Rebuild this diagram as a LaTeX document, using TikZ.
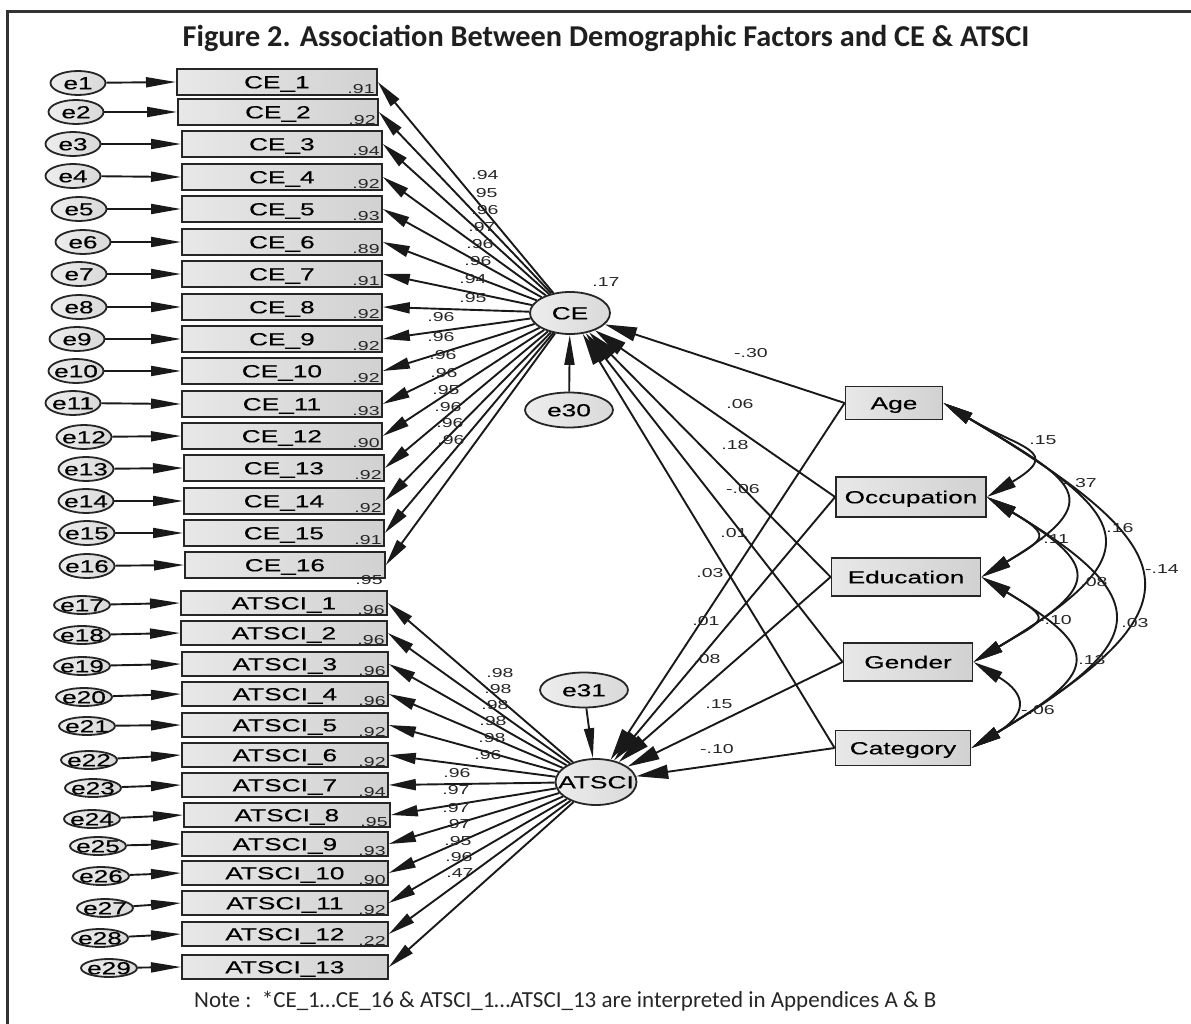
\documentclass[tikz,border=0pt]{standalone}
\usepackage{fontspec}
\setmainfont{Liberation Sans}
\newfontfamily\amos[FakeStretch=1.5,FakeBold=0.3]{Liberation Sans}
\newfontfamily\amoslab[FakeStretch=1.5]{Liberation Sans}
\newfontfamily\cali{Carlito}
\usetikzlibrary{arrows.meta,shapes.geometric}
\newcommand{\ctr}[1]{\makebox[0pt]{\raisebox{-0.36em}[0pt][0pt]{#1}}}
\tikzset{
 lw/.style={line width=1.9pt, draw=black!90},
 obs/.style={draw=black!85, line width=1.8pt, left color=black!9, right color=black!18, inner sep=0pt, font=\amos\fontsize{17.5}{18}\selectfont},
 cebox/.style={obs, minimum width=200pt, minimum height=26pt, anchor=west},
 atbox/.style={obs, minimum width=206pt, minimum height=24pt, anchor=west},
 lat/.style={ellipse, draw=black!85, line width=1.8pt, left color=black!7, right color=black!15, inner sep=0pt, font=\amos\fontsize{17.5}{18}\selectfont},
 errce/.style={lat, minimum width=55pt, minimum height=24pt},
 errat/.style={lat, minimum width=56pt, minimum height=18pt},
 lab/.style={inner sep=0pt, font=\amoslab\fontsize{13}{14}\selectfont, text=black!85},
 earr/.style={lw, -{Triangle[length=30pt,width=10pt]}},
 larr/.style={lw, -{Triangle[length=27pt,width=11pt]}},
 sarr/.style={lw, -{Triangle[length=32pt,width=14pt]}},
 carr/.style={lw, {Triangle[length=30pt,width=12pt]}-{Triangle[length=30pt,width=12pt]}},
 frame/.style={draw=black!80, line width=3pt},
}
\begin{document}
\begin{tikzpicture}[x=1pt,y=-1pt]
\useasboundingbox (0,0) rectangle (1191,1024);
\clip (0,0) rectangle (1191,1024);
\draw[frame] (7,12) rectangle (1210,1040);
\node[anchor=base, inner sep=0pt, font=\cali\bfseries\fontsize{30.3}{32}\selectfont, text=black!88] (title) at (606,46.5) {Figure 2. Association Between Demographic Factors and CE \& ATSCI};
\node[anchor=base west, inner sep=0pt, font=\cali\fontsize{23}{25}\selectfont, text=black!85] (note) at (194,1007) {Note :\ \ *CE\_1…CE\_16 \& ATSCI\_1…ATSCI\_13 are interpreted in Appendices A \& B};

% latent variables
\node[lat, minimum width=80pt, minimum height=42pt] (CE) at (570,313) {\ctr{CE}};
\node[lat, minimum width=81pt, minimum height=46pt] (ATSCI) at (596,782) {\ctr{ATSCI}};
\node[lat, minimum width=88pt, minimum height=35pt] (e30) at (569,410) {\ctr{e30}};
\node[lat, minimum width=88pt, minimum height=35pt] (e31) at (584,690) {\ctr{e31}};
\draw[earr] (e30) -- (CE);
\draw[earr] (e31) -- (ATSCI);
\node[lab] (r2ce) at (606,282) {.17};

% CE indicators
\foreach \i/\x/\y/\ex/\ey/\r/\s in {
 1/176/82/78/83/.91/2, 2/177/112/76/112/.92/1, 3/181/144/73/144/.94/2,
 4/181/177/73/176/.92/2, 5/181/209/79/209/.93/2, 6/181/242/83/242/.89/2,
 7/181/274/79/274/.91/2, 8/181/307/79/307/.92/2, 9/181/339/77/339/.92/2,
 10/181/371/76/371/.92/2, 11/181/404/73/403/.93/2, 12/181/436/84/437/.90/2,
 13/183/468/86/469/.92/2, 14/183/501/86/501/.92/2, 15/183/533/87/533/.91/2,
 16/184/565/87/566/.95/-6}{
 \node[cebox] (CE\i) at (\x,\y) {\ctr{CE\_\i}};
 \node[errce] (e\i) at (\ex,\ey) {\ctr{e\i}};
 \draw[earr] (e\i) -- (CE\i.west);
 \draw[larr] (CE) -- (CE\i.east);
 \node[lab, anchor=base east, xshift=-3pt, yshift=\s pt] (rce\i) at (CE\i.south east) {\r};
}

% ATSCI indicators
\foreach \i/\e/\x/\y/\ex/\ey/\r in {
 1/17/180/603/82/605/.96, 2/18/180/633/82/635/.96, 3/19/181/664/82/666/.96,
 4/20/181/694/84/697/.96, 5/21/181/725/87/726/.92, 6/22/181/755/89/760/.92,
 7/23/181/785/93/788/.94, 8/24/183/815/92/819/.95, 9/25/181/844/98/846/.93,
 10/26/181/873/101/876/.90, 11/27/181/903/105/908/.92, 12/28/181/934/100/938/.22}{
 \node[atbox] (AT\i) at (\x,\y) {\ctr{ATSCI\_\i}};
 \node[errat] (e\e) at (\ex,\ey) {\ctr{e\e}};
 \draw[earr] (e\e) -- (AT\i.west);
 \draw[larr] (ATSCI) -- (AT\i.east);
 \node[lab, anchor=base east, xshift=-3pt, yshift=1pt] (rat\i) at (AT\i.south east) {\r};
}
\node[atbox] (AT13) at (181,967) {\ctr{ATSCI\_13}};
\node[errat] (e29) at (109,968) {\ctr{e29}};
\draw[earr] (e29) -- (AT13.west);
\draw[larr] (ATSCI) -- (AT13.east);

% loading labels
\foreach \x/\y/\v [count=\k] in {485/175/.94, 484/193/.95, 485/210/.96, 482/227/.97,
 480/244/.96, 478/261/.96, 473/279/.94, 473/298/.95, 441/317/.96, 441/337/.96,
 443/355/.96, 444/373/.96, 446/390/.95, 448/407/.96, 450/423/.96, 451/440/.96}{
 \node[lab] (lce\k) at (\x,\y) {\v};
}
\foreach \x/\y/\v [count=\k] in {500/673/.98, 498/689/.98, 495/705/.98, 493/721/.98,
 492/738/.98, 488/755/.96, 457/773/.96, 456/790/.97, 456/808/.97, 457/824/.97,
 458/841/.95, 459/857/.96, 460/873/.47}{
 \node[lab] (lat\k) at (\x,\y) {\v};
}

% demographic factors
\node[obs, minimum width=97pt, minimum height=33pt] (Age) at (894,403) {\ctr{Age}};
\node[obs, minimum width=150pt, minimum height=40pt] (Occ) at (911,497) {\ctr{Occupation}};
\node[obs, minimum width=149pt, minimum height=38pt] (Edu) at (906,577) {\ctr{Education}};
\node[obs, minimum width=129pt, minimum height=38pt] (Gen) at (908,662) {\ctr{Gender}};
\node[obs, minimum width=135pt, minimum height=35pt] (Cat) at (903,748) {\ctr{Category}};

\foreach \b in {Age,Occ,Edu,Gen,Cat}{
 \draw[sarr] (\b.west) -- (CE);
 \draw[sarr] (\b.west) -- (ATSCI);
}
\node[lab] (pceage) at (751,353) {-.30};
\node[lab] (pceocc) at (740,404) {.06};
\node[lab] (pceedu) at (735,445) {.18};
\node[lab] (pcegen) at (743,489) {-.06};
\node[lab] (pcecat) at (734,533) {.01};
\node[lab] (patage) at (710,573) {.03};
\node[lab] (patocc) at (706,621) {.01};
\node[lab] (patedu) at (707,659) {.08};
\node[lab] (patgen) at (719,704) {.15};
\node[lab] (patcat) at (717,749) {-.10};

% covariances
\draw[carr] (Age.east) .. controls +(77,46) and +(77,-46) .. (Occ.east);
\draw[carr] (Age.east) .. controls +(131,79) and +(131,-79) .. (Edu.east);
\draw[carr] (Age.east) .. controls +(187,112) and +(187,-112) .. (Gen.east);
\draw[carr] (Age.east) .. controls +(241,145) and +(241,-145) .. (Cat.east);
\draw[carr] (Occ.east) .. controls +(65,39) and +(65,-39) .. (Edu.east);
\draw[carr] (Occ.east) .. controls +(121,73) and +(121,-73) .. (Gen.east);
\draw[carr] (Occ.east) .. controls +(175,105) and +(175,-105) .. (Cat.east);
\draw[carr] (Edu.east) .. controls +(73,44) and +(73,-44) .. (Gen.east);
\draw[carr] (Edu.east) .. controls +(125,75) and +(125,-75) .. (Cat.east);
\draw[carr] (Gen.east) .. controls +(55,33) and +(55,-33) .. (Cat.east);
\node[lab] (cao) at (1043,440) {.15};
\node[lab] (cae) at (1080,483) {-.37};
\node[lab] (cag) at (1120,528) {.16};
\node[lab] (cac) at (1162,569) {-.14};
\node[lab] (coe) at (1053,539) {-.11};
\node[lab] (cog) at (1094,582) {.08};
\node[lab] (coc) at (1135,623) {.03};
\node[lab] (ceg) at (1055,620) {-.10};
\node[lab] (cec) at (1092,660) {.13};
\node[lab] (cgc) at (1038,710) {-.06};
\end{tikzpicture}
\end{document}
